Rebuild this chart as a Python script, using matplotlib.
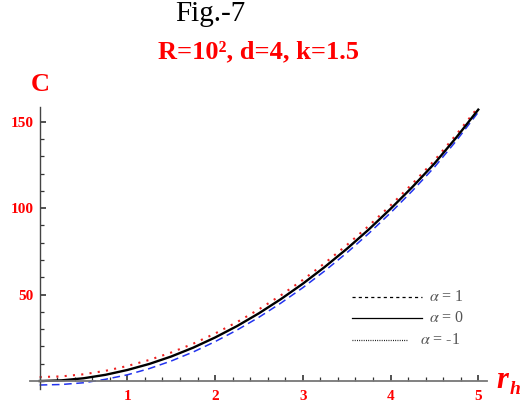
import matplotlib
matplotlib.use("Agg")
import matplotlib.pyplot as plt
import numpy as np
from matplotlib.ticker import MultipleLocator

plt.rcParams['font.family'] = ['Liberation Serif', 'DejaVu Serif']
plt.rcParams['mathtext.fontset'] = 'stix'

# data
r_h = [0, 0.25, 0.5, 0.75, 1, 1.25, 1.5, 1.75, 2, 2.25, 2.5, 2.75, 3,
       3.25, 3.5, 3.75, 4, 4.25, 4.5, 4.75, 5]
C_alpha_1 = [-2.3, -2.0, -1.0, 1.0, 3.6, 7.2, 11.6, 16.8, 22.8, 29.5, 36.9, 45.1, 54.0,
             63.7, 74.1, 85.3, 97.3, 110.1, 123.7, 139.0, 155.5]
C_alpha_0 = [0, 0.4, 1.6, 3.6, 6.4, 9.9, 14.2, 19.3, 25.2, 31.8, 39.2, 47.4, 56.3,
             66.0, 76.4, 87.6, 99.6, 112.3, 125.8, 140.9, 157.0]
C_alpha_m1 = [2.3, 2.7, 3.9, 5.9, 8.7, 12.2, 16.5, 21.6, 27.5, 34.1, 41.5, 49.6, 58.5,
              68.2, 78.6, 89.7, 101.6, 114.2, 127.6, 142.6, 158.5]
legend_labels = [r'$\alpha$ = 1', r'$\alpha$ = 0', r'$\alpha$ = -1']

fig = plt.figure(figsize=(5.22, 4.08), dpi=100)
ax = fig.add_axes([0.0575, 0.0466, 0.8755, 0.691])

ax.plot(r_h, C_alpha_1, color='#2233ee', lw=1.1, dashes=(5, 3), clip_on=False)
ax.plot(r_h, C_alpha_m1, color='#ee2222', lw=1.5, dashes=(1, 3), clip_on=False)
ax.plot(r_h, C_alpha_0, color='black', lw=1.7, clip_on=False)

ax.set_xlim(-0.11, 5.1)
ax.set_ylim(-4.6, 158.5)

for s in ['top', 'right']:
    ax.spines[s].set_visible(False)
ax.spines['left'].set_position(('data', 0))
ax.spines['bottom'].set_position(('data', 0))
ax.spines['left'].set_color('#444444')
ax.spines['bottom'].set_color('#777777')
ax.spines['left'].set_linewidth(1.0)
ax.spines['bottom'].set_linewidth(1.3)
ax.xaxis.set_ticks_position('bottom')
ax.yaxis.set_ticks_position('left')

ax.set_xticks([1, 2, 3, 4, 5])
ax.set_yticks([50, 100, 150])
ax.xaxis.set_minor_locator(MultipleLocator(0.2))
ax.yaxis.set_minor_locator(MultipleLocator(10))

ax.tick_params(which='major', direction='in', length=4.5, width=1.1, color='#222222')
ax.tick_params(which='minor', direction='in', length=2.8, width=0.9, color='#333333')
ax.tick_params(axis='x', which='major', pad=6.5)
ax.tick_params(axis='y', which='major', pad=4.3)
for lab in ax.get_xticklabels() + ax.get_yticklabels():
    lab.set_color('red')
    lab.set_fontweight('bold')
    lab.set_fontsize(11)

# titles and axis names
fig.text(210 / 522, 1 - 21 / 408, 'Fig.-7', fontsize=21, color='black',
         ha='center', va='baseline')
fig.text(258 / 522, 1 - 58 / 408, 'R=10², d=4, k=1.5', fontsize=19, color='red',
         fontweight='bold', ha='center', va='baseline')
fig.text(31 / 522, 1 - 91 / 408, 'C', fontsize=19, color='red',
         fontweight='bold', ha='left', va='baseline')
fig.text(496 / 522, 1 - 388 / 408, 'r', fontsize=22, color='red',
         fontweight='bold', style='italic', ha='left', va='baseline')
fig.text(510 / 522, 1 - 394 / 408, 'h', fontsize=14, color='red',
         fontweight='bold', style='italic', ha='left', va='baseline')

# legend drawn by hand
leg_rows = [297, 318, 340]
leg_styles = [dict(dashes=(2.5, 2.5)), dict(), dict(dashes=(0.7, 1.1))]
leg_ends = [422, 422, 407]
leg_text_x = [429, 429, 420]
for y, st, xe, tx, lab in zip(leg_rows, leg_styles, leg_ends, leg_text_x, legend_labels):
    yy = 1 - y / 408
    fig.add_artist(plt.Line2D([352 / 522, xe / 522], [yy, yy], color='black',
                              lw=0.9, transform=fig.transFigure, **st))
    fig.text(tx / 522, yy, lab, fontsize=11.5, color='#555555', ha='left', va='center')

fig.savefig('out.png', dpi=100)
